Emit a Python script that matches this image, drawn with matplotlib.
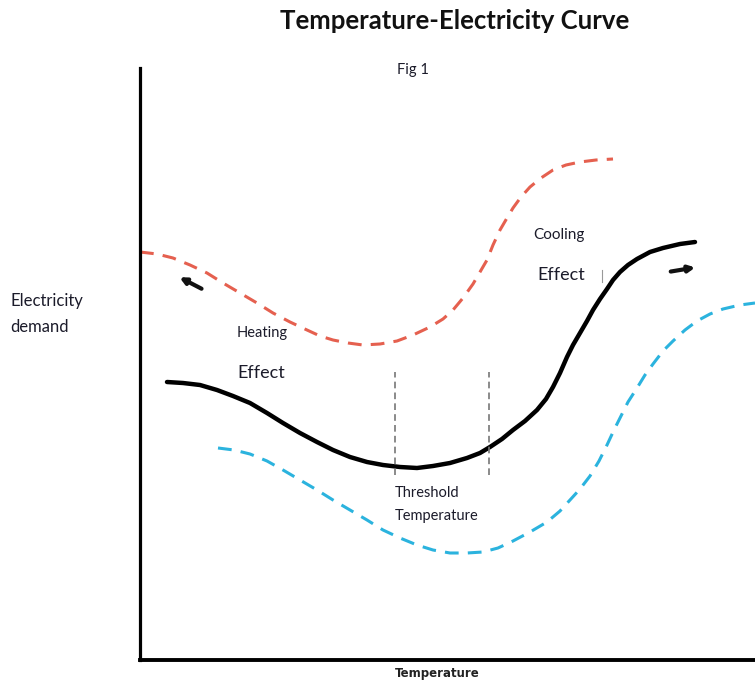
import matplotlib
matplotlib.use("Agg")
import matplotlib.pyplot as plt

plt.rcParams['font.family'] = ['Lato', 'DejaVu Sans']

# Conceptual curve readings (temperature units, demand units)
base_temp = [27, 43, 60, 77, 93, 110, 127, 143, 160, 177, 193, 210, 227, 243, 260, 277, 293, 310, 327, 340,
             350, 362, 373, 385, 397, 406, 413, 420, 427, 433, 440, 447, 453, 460, 467, 473, 480, 488, 497, 510,
             523, 540, 555]
base_demand = [278, 277, 275, 270, 264, 257, 247, 237, 227, 218, 210, 203, 198, 195, 193, 192, 194, 197, 202, 207,
               213, 221, 230, 239, 250, 261, 273, 287, 303, 315, 327, 339, 350, 361, 371, 380, 388, 395, 401, 408,
               412, 416, 418]

upper_temp = [0, 17, 33, 50, 67, 83, 100, 117, 133, 150, 167, 180, 193, 208, 223, 240, 257, 273, 290, 303,
              313, 323, 333, 340, 347, 353, 360, 367, 373, 381, 390, 401, 413, 426, 440, 456, 473]
upper_demand = [408, 406, 402, 395, 387, 377, 367, 357, 347, 338, 330, 324, 320, 317, 315, 316, 319, 325, 333, 341,
                350, 362, 376, 388, 400, 415, 430, 442, 452, 463, 473, 482, 490, 495, 498, 500, 501]

lower_temp = [78, 94, 110, 127, 143, 160, 177, 193, 210, 227, 243, 260, 277, 293, 310, 327, 343, 358, 373, 390,
              407, 420, 430, 440, 450, 459, 467, 474, 480, 488, 497, 505, 513, 523, 533, 545, 557, 570, 583, 600,
              615]
lower_demand = [212, 210, 206, 199, 190, 180, 170, 160, 150, 140, 130, 122, 115, 110, 107, 107, 108, 112, 119, 128,
                138, 149, 160, 171, 184, 199, 215, 230, 242, 258, 272, 285, 296, 309, 319, 330, 339, 346, 351, 355,
                357]

threshold_temps = [255, 349]
threshold_range = [185, 288]

fig = plt.figure(figsize=(7.55, 6.81), dpi=100)
ax = fig.add_axes([140 / 755, 21 / 681, 615 / 755, 592 / 681])
ax.set_xlim(0, 615)
ax.set_ylim(0, 592)

ax.plot(upper_temp, upper_demand, color='#e5604f', lw=2.2, dashes=(4.5, 3), solid_capstyle='butt')
ax.plot(lower_temp, lower_demand, color='#2bb3de', lw=2.2, dashes=(4.5, 3), solid_capstyle='butt')
ax.plot(base_temp, base_demand, color='black', lw=3.2, solid_capstyle='round', solid_joinstyle='round')

for t in threshold_temps:
    ax.plot([t, t], threshold_range, color='#777777', lw=1.2, dashes=(4, 2.5))

ax.plot([462, 462], [378, 390], color='#999999', lw=0.8)

ax.annotate('', xy=(37, 384), xytext=(64, 370),
            arrowprops=dict(arrowstyle='-|>', color='#111111', lw=3, mutation_scale=9))
ax.annotate('', xy=(558, 393), xytext=(528, 388),
            arrowprops=dict(arrowstyle='-|>', color='#111111', lw=3, mutation_scale=9))

txt = '#1b1b2a'
ax.text(97, 327, 'Heating', fontsize=10.5, color=txt, va='center', ha='left')
ax.text(97, 287, 'Effect', fontsize=13, color=txt, va='center', ha='left')
ax.text(393, 425, 'Cooling', fontsize=11, color=txt, va='center', ha='left')
ax.text(397, 385, 'Effect', fontsize=13, color=txt, va='center', ha='left')
ax.text(255, 167, 'Threshold', fontsize=10.5, color=txt, va='center', ha='left')
ax.text(255, 144, 'Temperature', fontsize=10.5, color=txt, va='center', ha='left')

for s in ['top', 'right']:
    ax.spines[s].set_visible(False)
ax.spines['left'].set_linewidth(2.3)
ax.spines['bottom'].set_linewidth(2.8)
ax.set_xticks([])
ax.set_yticks([])
ax.patch.set_alpha(0)

fig.text(455 / 755, 1 - 21 / 681, 'Temperature-Electricity Curve', fontsize=18.5,
         fontweight='bold', ha='center', va='center', color='#111111')
fig.text(413 / 755, 1 - 70 / 681, 'Fig 1', fontsize=10.5, ha='center', va='center', color=txt)
fig.text(10 / 755, 1 - 301 / 681, 'Electricity', fontsize=12, ha='left', va='center', color=txt)
fig.text(10 / 755, 1 - 327 / 681, 'demand', fontsize=12, ha='left', va='center', color=txt)
fig.text(437 / 755, 1 - 674 / 681, 'Temperature', fontsize=8.5, fontweight='bold',
         ha='center', va='center', color='#222222', family=['DejaVu Sans'])

fig.savefig('out.png', dpi=100)
